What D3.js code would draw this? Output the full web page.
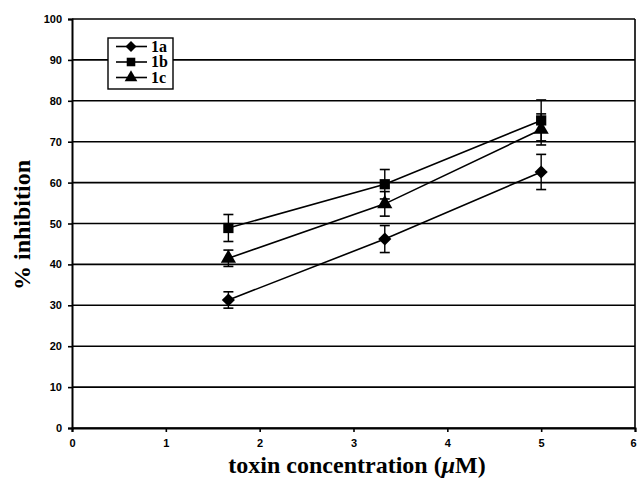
<!DOCTYPE html>
<html>
<head>
<meta charset="utf-8">
<script src="https://cdn.jsdelivr.net/npm/d3@7"></script>
<style>
  body { margin: 0; background: #fff; }
  svg { display: block; }
</style>
</head>
<body>
<svg id="chart" width="638" height="479"></svg>
<script>
// data
const concentrations = [5 / 3, 10 / 3, 5];
const seriesNames = ["1a", "1b", "1c"];
const values1a = [31.3, 46.2, 62.6];
const errors1a = [2.0, 3.3, 4.3];
const values1b = [48.9, 59.6, 75.2];
const errors1b = [3.3, 3.6, 5.0];
const values1c = [41.5, 54.8, 73.0];
const errors1c = [2.0, 3.0, 3.8];
const xTicks = [0, 1, 2, 3, 4, 5, 6];
const yTicks = [0, 10, 20, 30, 40, 50, 60, 70, 80, 90, 100];

const series = [
  { name: seriesNames[0], values: values1a, errors: errors1a, symbol: d3.symbolDiamond2, size: 110 },
  { name: seriesNames[1], values: values1b, errors: errors1b, symbol: d3.symbolSquare, size: 105 },
  { name: seriesNames[2], values: values1c, errors: errors1c, symbol: d3.symbolTriangle, size: 100 }
];

const svg = d3.select("#chart");
const plotLeft = 72, plotRight = 635, plotTop = 19, plotBottom = 428;

const x = d3.scaleLinear().domain([0, 6]).range([plotLeft, plotRight]);
const y = d3.scaleLinear().domain([0, 100]).range([plotBottom, plotTop]);

// gridlines
svg.append("g")
  .selectAll("line")
  .data(yTicks)
  .join("line")
  .attr("x1", plotLeft)
  .attr("x2", plotRight)
  .attr("y1", (d) => y(d))
  .attr("y2", (d) => y(d))
  .attr("stroke", "#000")
  .attr("stroke-width", 1.6);

// right border
svg.append("line")
  .attr("x1", plotRight).attr("x2", plotRight)
  .attr("y1", plotTop).attr("y2", plotBottom)
  .attr("stroke", "#000").attr("stroke-width", 1.6);

// axes
const yAxis = svg.append("g")
  .attr("transform", "translate(" + plotLeft + ",0)")
  .call(d3.axisLeft(y).tickValues(yTicks).tickFormat(d3.format("d")).tickSize(4).tickPadding(6));
const xAxis = svg.append("g")
  .attr("transform", "translate(0," + plotBottom + ")")
  .call(d3.axisBottom(x).tickValues(xTicks).tickFormat(d3.format("d")).tickSize(4).tickPadding(7));

[yAxis, xAxis].forEach((a) => {
  a.select(".domain").attr("stroke-width", 2);
  a.selectAll(".tick line").attr("stroke-width", 1.6);
  a.selectAll("text")
    .attr("font-family", "Arial, 'Liberation Sans', sans-serif")
    .attr("font-size", "11px")
    .attr("font-weight", "bold")
    .attr("fill", "#000");
});
xAxis.selectAll(".tick text").filter((d) => d === 6).attr("dx", -2);

// lines
const line = d3.line()
  .x((d, i) => x(concentrations[i]))
  .y((d) => y(d));

series.forEach((s) => {
  const g = svg.append("g");
  g.append("path")
    .attr("d", line(s.values))
    .attr("fill", "none")
    .attr("stroke", "#000")
    .attr("stroke-width", 1.6);

  // error bars
  const eb = g.selectAll(".eb")
    .data(s.values.map((v, i) => ({ cx: concentrations[i], v: v, e: s.errors[i] })))
    .join("g");
  eb.append("line")
    .attr("x1", (d) => x(d.cx)).attr("x2", (d) => x(d.cx))
    .attr("y1", (d) => y(d.v - d.e)).attr("y2", (d) => y(d.v + d.e))
    .attr("stroke", "#000").attr("stroke-width", 1.4);
  eb.append("line")
    .attr("x1", (d) => x(d.cx) - 5).attr("x2", (d) => x(d.cx) + 5)
    .attr("y1", (d) => y(d.v + d.e)).attr("y2", (d) => y(d.v + d.e))
    .attr("stroke", "#000").attr("stroke-width", 1.6);
  eb.append("line")
    .attr("x1", (d) => x(d.cx) - 5).attr("x2", (d) => x(d.cx) + 5)
    .attr("y1", (d) => y(d.v - d.e)).attr("y2", (d) => y(d.v - d.e))
    .attr("stroke", "#000").attr("stroke-width", 1.6);

  g.selectAll(".mk")
    .data(s.values)
    .join("path")
    .attr("transform", (d, i) => "translate(" + x(concentrations[i]) + "," + y(d) + ")")
    .attr("d", d3.symbol().type(s.symbol).size(s.size))
    .attr("fill", "#000");
});

// legend
const legend = svg.append("g").attr("transform", "translate(108,38)");
legend.append("rect")
  .attr("width", 65).attr("height", 51)
  .attr("fill", "#fff").attr("stroke", "#000").attr("stroke-width", 1.4);
series.forEach((s, i) => {
  const ly = 8.5 + i * 15.5;
  legend.append("line")
    .attr("x1", 8).attr("x2", 39).attr("y1", ly).attr("y2", ly)
    .attr("stroke", "#000").attr("stroke-width", 1.6);
  legend.append("path")
    .attr("transform", "translate(23," + ly + ")")
    .attr("d", d3.symbol().type(s.symbol).size(s.size * 0.7))
    .attr("fill", "#000");
  legend.append("text")
    .attr("x", 43).attr("y", ly + 5)
    .attr("font-family", "'Liberation Serif', 'Times New Roman', serif")
    .attr("font-weight", "bold")
    .attr("font-size", "16px")
    .text(s.name);
});

// axis titles
svg.append("text")
  .attr("transform", "translate(30,225) rotate(-90)")
  .attr("text-anchor", "middle")
  .attr("font-family", "'Liberation Serif', 'Times New Roman', serif")
  .attr("font-weight", "bold")
  .attr("font-size", "24px")
  .text("% inhibition");

const xt = svg.append("text")
  .attr("x", 357).attr("y", 473)
  .attr("text-anchor", "middle")
  .attr("font-family", "'Liberation Serif', 'Times New Roman', serif")
  .attr("font-weight", "bold")
  .attr("font-size", "24px");
xt.append("tspan").text("toxin concentration (");
xt.append("tspan").attr("font-style", "italic").text("\u03bc");
xt.append("tspan").text("M)");
</script>
</body>
</html>
